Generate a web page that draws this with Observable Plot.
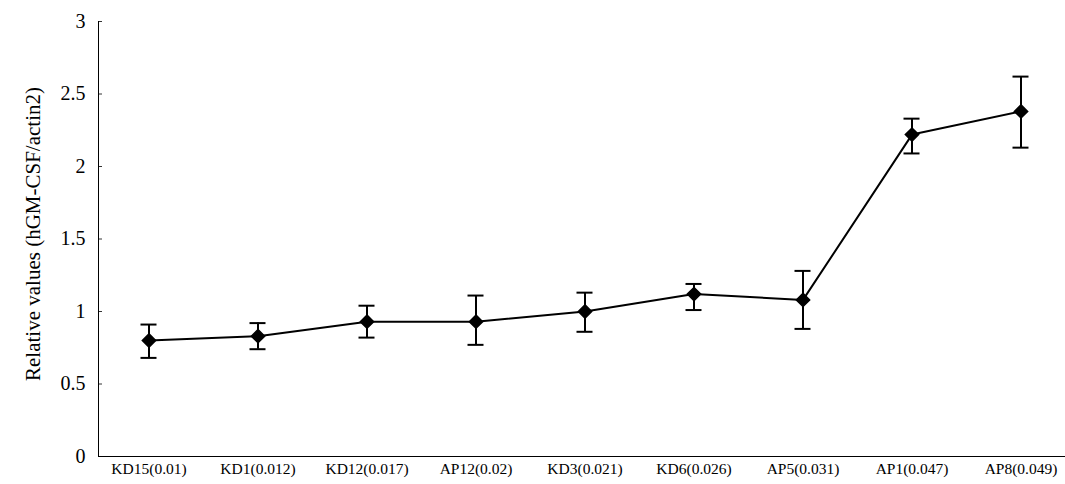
<!DOCTYPE html>
<html>
<head>
<meta charset="utf-8">
<script src="https://cdn.jsdelivr.net/npm/d3@7"></script>
<script src="https://cdn.jsdelivr.net/npm/@observablehq/plot@0.6"></script>
<style>
  html, body { margin: 0; padding: 0; background: #fff; }
  #chart svg, #chart svg text { font-family: "Liberation Serif", "Times New Roman", Times, "DejaVu Serif", serif !important; }
</style>
</head>
<body>
<div id="chart"></div>
<script>
const categories = ["KD15(0.01)", "KD1(0.012)", "KD12(0.017)", "AP12(0.02)", "KD3(0.021)", "KD6(0.026)", "AP5(0.031)", "AP1(0.047)", "AP8(0.049)"];
const means = [0.80, 0.83, 0.93, 0.93, 1.00, 1.12, 1.08, 2.22, 2.38];
const upper = [0.91, 0.92, 1.04, 1.11, 1.13, 1.19, 1.28, 2.33, 2.62];
const lower = [0.68, 0.74, 0.82, 0.77, 0.86, 1.01, 0.88, 2.09, 2.13];
const yTicks = [0, 0.5, 1, 1.5, 2, 2.5, 3];

const data = categories.map((c, i) => ({cat: c, mean: means[i], hi: upper[i], lo: lower[i]}));

const plot = Plot.plot({
  width: 1065,
  height: 484,
  marginLeft: 98,
  marginRight: 0,
  marginTop: 21,
  marginBottom: 28,
  style: {fontFamily: "Liberation Serif, Times New Roman, serif", color: "#000", background: "#fff"},
  x: {type: "band", domain: categories, range: [93.5, 1075], padding: 0, label: null},
  y: {domain: [0, 3], label: null},
  marks: [
    Plot.axisX({tickSize: 0, tickPadding: 6, fontSize: 15.5, label: null}),
    Plot.axisY({ticks: yTicks, tickSize: 0, tickPadding: 13, fontSize: 20, label: null, tickFormat: d => String(d)}),
    Plot.axisY({ticks: yTicks.slice(1), tickSize: -4, text: null, label: null, stroke: "#000", strokeWidth: 0.8}),
    Plot.frame({anchor: "left", stroke: "#000", strokeWidth: 1}),
    Plot.ruleY([0], {stroke: "#000", strokeWidth: 1}),
    Plot.ruleX(data, {x: "cat", y1: "lo", y2: "hi", stroke: "#000", strokeWidth: 2}),
    Plot.tickY(data, {x: "cat", y: "hi", stroke: "#000", strokeWidth: 2, insetLeft: 46.5, insetRight: 46.5}),
    Plot.tickY(data, {x: "cat", y: "lo", stroke: "#000", strokeWidth: 2, insetLeft: 46.5, insetRight: 46.5}),
    Plot.line(data, {x: "cat", y: "mean", stroke: "#000", strokeWidth: 2}),
    Plot.dot(data, {x: "cat", y: "mean", symbol: "diamond2", r: 6, fill: "#000", stroke: "#000"})
  ]
});

document.getElementById("chart").appendChild(plot);

// y-axis title
d3.select(plot).append("text")
  .attr("transform", "translate(40,234) rotate(-90)")
  .attr("text-anchor", "middle")
  .attr("font-size", 21)
  .attr("fill", "#000")
  .text("Relative values (hGM-CSF/actin2)");
</script>
</body>
</html>
